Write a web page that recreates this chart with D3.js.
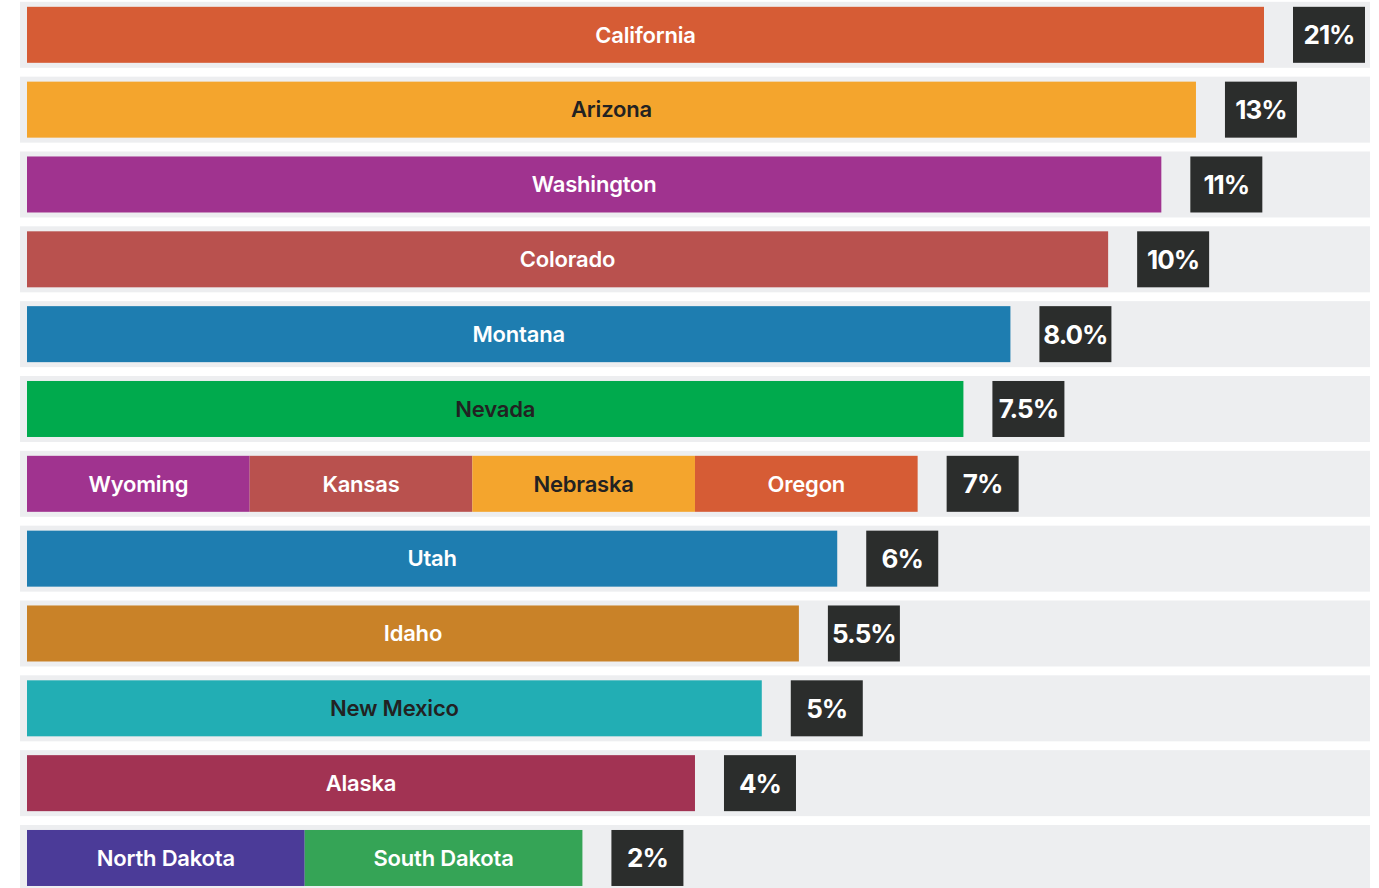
<!DOCTYPE html>
<meta charset="utf-8">
<script src="https://d3js.org/d3.v7.min.js"></script>
<style>
  body { margin: 0; background: #fff; }
</style>
<div class="chart"></div>

<script>
    // one row per bar; some rows share a bar between several states
    var states = [
        ["California"],
        ["Arizona"],
        ["Washington"],
        ["Colorado"],
        ["Montana"],
        ["Nevada"],
        ["Wyoming", "Kansas", "Nebraska", "Oregon"],
        ["Utah"],
        ["Idaho"],
        ["New Mexico"],
        ["Alaska"],
        ["North Dakota", "South Dakota"]
    ];
    var values = [21, 13, 11, 10, 8.0, 7.5, 7, 6, 5.5, 5, 4, 2];
    var valueLabels = ["21%", "13%", "11%", "10%", "8.0%", "7.5%", "7%", "6%", "5.5%", "5%", "4%", "2%"];
    // drawn bar length (relative, longest = 100) as it appears in the graphic
    var barLength = [100, 94.5, 91.7, 87.4, 79.5, 75.7, 72.0, 65.5, 62.4, 59.4, 54.0, 44.9];

    var colors = {
        "California": "#d65c35", "Arizona": "#f4a52d", "Washington": "#a0338f",
        "Colorado": "#b9514e", "Montana": "#1e7db0", "Nevada": "#00aa4d",
        "Wyoming": "#a0338f", "Kansas": "#b9514e", "Nebraska": "#f4a52d",
        "Oregon": "#d65c35", "Utah": "#1e7db0", "Idaho": "#c98228",
        "New Mexico": "#22aeb4", "Alaska": "#a23353",
        "North Dakota": "#4b3b98", "South Dakota": "#35a456"
    };
    var darkText = ["Arizona", "Nevada", "Nebraska", "New Mexico"];

    var width = 1379, height = 888;
    var rowLeft = 20, rowRight = 1370;
    var inset = 5, boxW = 72, boxGap = 29;

    var rows = states.map(function(s, i) {
        return { id: i, states: s, value: values[i], label: valueLabels[i], len: barLength[i] };
    });

    var y = d3.scaleBand()
        .domain(rows.map(function(d) { return d.id; }))
        .range([-2.6, 895.4])
        .paddingInner(0.118)
        .paddingOuter(0.059);

    var x = d3.scaleLinear()
        .domain([0, 100])
        .range([27, 1264]);

    var svg = d3.select(".chart").append("svg")
        .attr("width", width)
        .attr("height", height)
        .style("font-family", "Inter, 'Open Sans', sans-serif");

    var row = svg.selectAll(".row")
        .data(rows)
        .enter()
        .append("g")
        .attr("class", "row")
        .attr("transform", function(d) { return "translate(0," + y(d.id) + ")"; });

    // gray row background
    row.append("rect")
        .attr("x", rowLeft)
        .attr("width", rowRight - rowLeft)
        .attr("height", y.bandwidth())
        .attr("fill", "#edeef0");

    var barH = y.bandwidth() - inset * 2;

    // bar segments, split evenly among the row's states
    var seg = row.selectAll(".seg")
        .data(function(d) {
            var w = (x(d.len) - x(0)) / d.states.length;
            return d.states.map(function(s, j) {
                return { name: s, x0: x(0) + j * w, x1: x(0) + (j + 1) * w };
            });
        })
        .enter()
        .append("g")
        .attr("class", "seg");

    seg.append("rect")
        .attr("x", function(d) { return d.x0; })
        .attr("y", inset)
        .attr("width", function(d) { return d.x1 - d.x0; })
        .attr("height", barH)
        .attr("fill", function(d) { return colors[d.name]; });

    seg.append("text")
        .attr("x", function(d) { return (d.x0 + d.x1) / 2; })
        .attr("y", inset + barH / 2)
        .attr("dy", "0.35em")
        .attr("text-anchor", "middle")
        .attr("font-size", "22px")
        .attr("font-weight", 600)
        .attr("letter-spacing", "-0.2px")
        .attr("fill", function(d) { return darkText.indexOf(d.name) >= 0 ? "#222" : "#fff"; })
        .text(function(d) { return d.name; });

    // value box
    row.append("rect")
        .attr("x", function(d) { return x(d.len) + boxGap; })
        .attr("y", inset)
        .attr("width", boxW)
        .attr("height", barH)
        .attr("fill", "#2b2d2c");

    row.append("text")
        .attr("x", function(d) { return x(d.len) + boxGap + boxW / 2; })
        .attr("y", inset + barH / 2)
        .attr("dy", "0.36em")
        .attr("text-anchor", "middle")
        .attr("font-size", "26px")
        .attr("font-weight", 700)
        .attr("letter-spacing", "-1px")
        .attr("fill", "#fff")
        .text(function(d) { return d.label; });
</script>
